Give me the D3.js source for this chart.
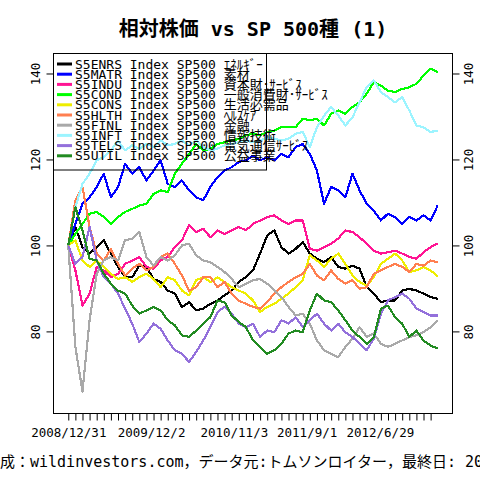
<!DOCTYPE html>
<html>
<head>
<meta charset="utf-8">
<script src="https://cdn.jsdelivr.net/npm/d3@7"></script>
<style>
  body { margin: 0; background: #fff; }
  svg { display: block; }
  text { font-family: "DejaVu Sans Mono", "Noto Sans CJK JP", monospace; fill: #000; }
</style>
</head>
<body>
<div id="chart"></div>
<script>
// trading-day index of every sample (one value every 20 trading days from 2008/12/31)
let sampleDays = d3.range(0, 1041, 20);

let seriesNames = [
  "S5ENRS Index SP500 ｴﾈﾙｷﾞｰ",
  "S5MATR Index SP500 素材",
  "S5INDU Index SP500 資本財･ｻｰﾋﾞｽ",
  "S5COND Index SP500 一般消費財･ｻｰﾋﾞｽ",
  "S5CONS Index SP500 生活必需品",
  "S5HLTH Index SP500 ﾍﾙｽｹｱ",
  "S5FINL Index SP500 金融",
  "S5INFT Index SP500 情報技術",
  "S5TELS Index SP500 電気通信ｻｰﾋﾞｽ",
  "S5UTIL Index SP500 公益事業"
];

let seriesColors = ["#000000", "#0000ff", "#ff1493", "#00ff00", "#eeee00",
                    "#ff7f50", "#a9a9a9", "#9cf4ff", "#9370db", "#228b22"];

// relative price vs SP500 (start = 100)
let enrs = [100, 104.3, 99.6, 98.1, 99.6, 101.2, 98.1, 95, 92.6, 92.6, 95.3, 95, 92.2, 91.5, 89.5, 88.8, 85.7, 86.8, 84.9, 85.3,
            86.4, 87.2, 88.4, 89.5, 91.5, 92.6, 94.2, 98.1, 102.3, 103.5, 99.6, 98.1, 99.2, 100.8, 98.1, 96.9, 96.1, 97.3, 95, 94.6,
            95.3, 94.6, 90.3, 88.8, 86.8, 87.2, 87.2, 89.5, 89.9, 89.5, 88.8, 88, 87.6];
let matr = [100, 105, 109.7, 111.2, 113.6, 116.7, 111.2, 113.6, 119, 116.7, 118.2, 115.1, 117.4, 119.8, 114.3, 113.6, 115.1, 112.8, 111.2, 110.5,
            113.6, 115.9, 117.4, 118.2, 119.4, 119.8, 120.9, 119.8, 120.5, 119.8, 121.3, 120.5, 122.9, 123.6, 121.3, 117.4, 109.7, 113.6, 112.8, 111.2,
            116.7, 112.8, 109.7, 108.1, 105.8, 107.4, 106.6, 105, 106.6, 105.8, 107, 105.8, 109.3];
let indu = [100, 94.2, 86, 88.8, 95, 94.2, 92.6, 93.4, 95.7, 96.5, 97.3, 95, 94.6, 96.5, 97.3, 99.6, 101.2, 104.7, 103.1, 103.9,
            101.9, 103.5, 102.7, 103.5, 104.3, 103.5, 105, 105.8, 106.6, 107, 105.8, 105, 105.8, 105.8, 99.2, 98.8, 99.6, 100.4, 101.6, 103.5,
            103.1, 101.9, 100.4, 98.8, 98.1, 98.4, 98.8, 98.1, 97.3, 96.9, 98.4, 99.6, 100.5];
let cond = [100, 102.7, 105, 107.4, 107.8, 106.6, 105, 106.6, 107.8, 108.5, 109.3, 109.7, 112, 112.8, 112.4, 116.7, 119, 121.3, 123.6, 122.1,
            122.5, 123.6, 124, 124.4, 124.8, 125.6, 126, 125.6, 126.4, 126.7, 127.5, 127.5, 127.5, 129.5, 129.1, 129.5, 127.9, 130.6, 131.4, 130.6,
            132.2, 133.3, 135.3, 138, 137.2, 136, 135.7, 136.4, 136.8, 137.6, 139.5, 141.1, 140.3];
let cons = [100, 101.2, 96.5, 95, 96.5, 95, 93.4, 92.2, 92.6, 91.5, 92.6, 93.4, 92.2, 90.3, 92.6, 91.9, 89.5, 88.4, 91.9, 92.6,
            91.5, 92.6, 91.5, 90.3, 89.5, 88.8, 87.2, 84.5, 85.7, 86.4, 87.6, 88.8, 90.3, 91.9, 97.7, 96.5, 95, 96.9, 98.1, 95.7,
            93, 91.5, 90.7, 92.6, 95.7, 96.9, 98.1, 96.5, 93.8, 94.2, 95, 94.2, 92.8];
let hlth = [100, 110.5, 113.6, 104.3, 98.1, 96.5, 99.2, 95.7, 93, 94.6, 95.7, 94.2, 95, 97.3, 98.1, 95.7, 93, 89.5, 90.3, 92.6,
            92.6, 90.3, 91.5, 88.8, 87.2, 86.4, 85.7, 85.3, 86.8, 88.8, 90.3, 91.5, 92.6, 93.4, 95.7, 93, 91.9, 94.2, 92.2, 91.1,
            91.9, 89.9, 90.3, 93.4, 94.2, 95, 95.7, 95, 93.8, 95.7, 95.3, 96.5, 96.1];
let finl = [100, 76.4, 66, 82.6, 93.4, 96.5, 97.3, 96.5, 101.2, 101.6, 103.1, 97.3, 95.3, 97.3, 96.5, 97.7, 100, 100.4, 97.7, 96.5,
            96.1, 95, 93.8, 92.2, 90.3, 91.1, 91.9, 92.2, 91.1, 89.5, 88, 85.7, 83.7, 84.1, 81.8, 77.9, 75.6, 74.8, 74, 76.4,
            78.3, 81, 78.7, 79.5, 77.1, 76.4, 77.1, 77.9, 78.7, 79.1, 79.8, 81, 82.6];
let inft = [100, 108.9, 114.3, 116.7, 119.8, 120.5, 122.1, 124.4, 122.1, 123.3, 122.5, 123.6, 122.9, 124.4, 123.3, 123.6, 124.4, 123.3, 124.4, 122.9,
            122.1, 122.5, 123.3, 123.6, 124, 124.4, 124, 124.4, 125.2, 124.8, 124.4, 124.8, 126, 126.4, 122.9, 127.5, 130.2, 132.2, 130.2, 127.9,
            129.8, 133.3, 136.8, 138.4, 135.7, 134.5, 133.3, 134.5, 131.4, 127.9, 127.5, 126.4, 126.7];
let tels = [100, 95.7, 97.3, 104.3, 96.5, 92.6, 91.1, 88.8, 85.3, 81.8, 77.5, 79.5, 81.8, 80.6, 77.9, 75.6, 74.8, 72.9, 75.2, 77.9,
            81, 84.5, 85.7, 84.1, 81.8, 81, 81.8, 78.7, 80.2, 79.8, 82.6, 81.8, 83.3, 81, 82.6, 84.1, 81.8, 80.2, 81.8, 79.8,
            78.7, 77.1, 75.6, 78.3, 84.1, 87.2, 88, 88.8, 87.6, 85.3, 84.5, 83.7, 83.7];
let util = [100, 108.9, 103.5, 96.9, 96.5, 93.4, 91.1, 89.5, 88.8, 86, 84.1, 84.9, 85.7, 84.9, 82.6, 81.4, 79.1, 78.7, 80.2, 81.8,
            83.3, 87.2, 86.8, 83.7, 82.2, 81, 77.9, 76.4, 74.8, 75.6, 77.1, 79.5, 80.2, 79.8, 84.9, 88.8, 87.2, 86.8, 84.9, 82.6,
            80.2, 78.7, 77.1, 78.7, 85.3, 86, 83.3, 81.8, 78.7, 80.2, 77.9, 76.7, 76];

let seriesValues = [enrs, matr, indu, cond, cons, hlth, finl, inft, tels, util];

// axis ticks / labels
let xTickDays = d3.range(0, 1021, 20);
let xLabelDays = [0, 233, 466, 671, 877];
let xLabels = ["2008/12/31", "2009/12/2", "2010/11/3", "2011/9/1", "2012/6/29"];
let yTicks = [80, 100, 120, 140];
let yRange = [60.9, 144.65];

let titleText = "相対株価 vs SP 500種 (1)";
let footerText = "作成：wildinvestors.com，データ元:トムソンロイター，最終日: 2013/2/15";

let svgWidth = 480;
let svgHeight = 480;

let margin = { top: 53.5, right: 27.5, bottom: 66.5, left: 53.5 };
let width = svgWidth - margin.left - margin.right;
let height = svgHeight - margin.top - margin.bottom;

let svg = d3.select("#chart")
  .append("svg")
  .attr("width", svgWidth)
  .attr("height", svgHeight);

let chartGroup = svg.append("g")
  .attr("transform", `translate(${margin.left}, ${margin.top})`);

// R style 4% padding on the day axis
let lastDay = sampleDays[sampleDays.length - 1];
let xScale = d3.scaleLinear()
  .domain([-0.04 * lastDay, lastDay * 1.04])
  .range([0, width]);

let yScale = d3.scaleLinear()
  .domain(yRange)
  .range([height, 0]);

chartGroup.append("clipPath")
  .attr("id", "plot-clip")
  .append("rect")
  .attr("width", width)
  .attr("height", height);

// lines
let line = d3.line()
  .x((d, i) => xScale(sampleDays[i]))
  .y(d => yScale(d));

chartGroup.append("g")
  .attr("clip-path", "url(#plot-clip)")
  .selectAll("path")
  .data(seriesValues)
  .enter()
  .append("path")
  .attr("d", line)
  .attr("fill", "none")
  .attr("stroke", (d, i) => seriesColors[i])
  .attr("stroke-width", 2.2)
  .attr("stroke-linejoin", "round")
  .attr("shape-rendering", "crispEdges");

// x axis: small ticks, then the date labels
let xAxisG = chartGroup.append("g")
  .attr("transform", `translate(0, ${height})`)
  .call(d3.axisBottom(xScale).tickValues(xTickDays).tickSize(7).tickFormat(""));
xAxisG.select(".domain").remove();

let xLabelG = chartGroup.append("g")
  .attr("transform", `translate(0, ${height})`)
  .call(d3.axisBottom(xScale).tickValues(xLabelDays).tickSize(0).tickPadding(15)
    .tickFormat((d, i) => xLabels[i]))
  .attr("font-size", 12.5);
xLabelG.select(".domain").remove();

// y axes on both sides, labels parallel to the axis
let yLeft = chartGroup.append("g")
  .call(d3.axisLeft(yScale).tickValues(yTicks).tickSize(7))
  .attr("font-size", 12.5);
yLeft.select(".domain").remove();
yLeft.selectAll("text")
  .attr("transform", "rotate(-90)")
  .attr("x", 0)
  .attr("y", -14)
  .attr("dy", 0)
  .attr("text-anchor", "middle");

let yRight = chartGroup.append("g")
  .attr("transform", `translate(${width}, 0)`)
  .call(d3.axisRight(yScale).tickValues(yTicks).tickSize(7))
  .attr("font-size", 12.5);
yRight.select(".domain").remove();
yRight.selectAll("text")
  .attr("transform", "rotate(-90)")
  .attr("x", 0)
  .attr("y", 20)
  .attr("dy", 0)
  .attr("text-anchor", "middle");

// plot frame
chartGroup.append("rect")
  .attr("width", width)
  .attr("height", height)
  .attr("fill", "none")
  .attr("stroke", "#000")
  .attr("stroke-width", 1);

// legend (transparent, text runs past its box like the original)
let legend = chartGroup.append("g");
legend.append("rect")
  .attr("width", 213)
  .attr("height", 116.5)
  .attr("fill", "none")
  .attr("stroke", "#000");

let rows = legend.selectAll(".row")
  .data(seriesNames)
  .enter()
  .append("g")
  .attr("transform", (d, i) => `translate(0, ${10.5 + i * 10.2})`);

rows.append("line")
  .attr("x1", 3.5)
  .attr("x2", 18.5)
  .attr("stroke", (d, i) => seriesColors[i])
  .attr("stroke-width", 3);

rows.append("text")
  .attr("x", 21.5)
  .attr("dominant-baseline", "central")
  .attr("font-size", 13)
  .text(d => d);

// title and footer
svg.append("text")
  .attr("x", margin.left + width / 2)
  .attr("y", 36)
  .attr("text-anchor", "middle")
  .attr("font-size", 20)
  .attr("font-weight", "bold")
  .text(titleText);

svg.append("text")
  .attr("x", -15)
  .attr("y", 467)
  .attr("font-size", 15)
  .text(footerText);
</script>
</body>
</html>
